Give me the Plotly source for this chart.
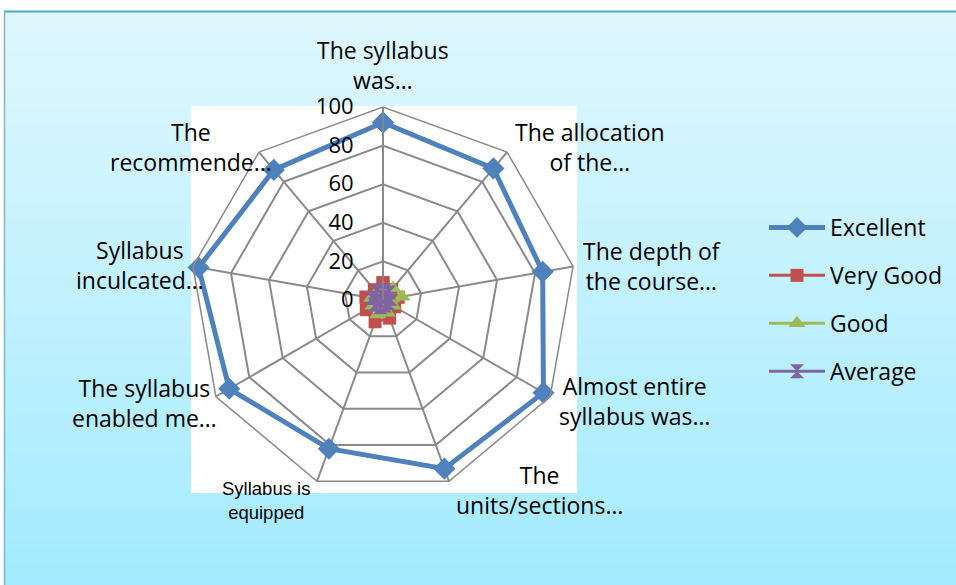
import math
import plotly.graph_objects as go

categories = [
    "The syllabus<br>was…",
    "The allocation<br>of the…",
    "The depth of<br>the course…",
    "Almost entire<br>syllabus was…",
    "The<br>units/sections…",
    "Syllabus is<br>equipped",
    "The syllabus<br>enabled me…",
    "Syllabus<br>inculcated…",
    "The<br>recommende…",
]
cat_ids = ["c%d" % i for i in range(len(categories))]

excellent = [92, 89, 84, 96, 93, 82, 92, 97, 88]
very_good = [9, 7, 8, 7, 10, 12, 10, 9, 7]
good = [6, 8, 10, 6, 7, 8, 6, 6, 5]
average = [5, 5, 4, 3, 3, 4, 5, 6, 5]

radial_ticks = [0, 20, 40, 60, 80, 100]

W, H = 956, 585
FONT = "Open Sans"
GRID = "#8a8a8a"

series = [
    ("Excellent", excellent, "#4F81BD", "diamond", 17, 5),
    ("Very Good", very_good, "#C0504D", "square", 13, 3),
    ("Good", good, "#9BBB59", "triangle-up", 15, 3),
    ("Average", average, "#8064A2", "hourglass", 14, 3),
]

fig = go.Figure()
for i, (name, vals, color, sym, msize, lw) in enumerate(series):
    fig.add_trace(go.Scatterpolar(
        r=vals + [vals[0]],
        theta=cat_ids + [cat_ids[0]],
        mode="lines+markers",
        name=name,
        legendgroup=name,
        line=dict(color=color, width=lw),
        marker=dict(symbol=sym, size=msize, color=color),
    ))

# background gradient bands
shapes = []
top_px, bot_px = 11, 585
c_top = (223, 247, 253)
c_bot = (163, 235, 255)
n = 60
for k in range(n):
    y0p = top_px + (bot_px - top_px) * k / n
    y1p = top_px + (bot_px - top_px) * (k + 1) / n + 0.6
    t = (k + 0.5) / n
    col = tuple(round(c_top[j] + (c_bot[j] - c_top[j]) * t) for j in range(3))
    shapes.append(dict(type="rect", xref="paper", yref="paper", layer="below",
                       x0=4 / W, x1=1, y0=1 - min(y1p, H) / H, y1=1 - y0p / H,
                       fillcolor="rgb(%d,%d,%d)" % col, line=dict(width=0)))
# frame lines
shapes.append(dict(type="line", xref="paper", yref="paper", layer="below",
                   x0=4 / W, x1=1, y0=1 - 11.5 / H, y1=1 - 11.5 / H,
                   line=dict(color="#4BACC6", width=2)))
shapes.append(dict(type="line", xref="paper", yref="paper", layer="below",
                   x0=4.5 / W, x1=4.5 / W, y0=0, y1=1 - 11 / H,
                   line=dict(color="#7fb6c4", width=1.5)))
# white plot area
shapes.append(dict(type="rect", xref="paper", yref="paper", layer="below",
                   x0=191 / W, x1=577 / W, y0=1 - 493 / H, y1=1 - 106 / H,
                   fillcolor="white", line=dict(width=0)))

cx, cy, R = 383, 300, 193

# category labels placed around the polygon (anchor, dx, dy, font size, family)
label_style = [
    ("center", 0, -42, 23, FONT),
    ("left", 6, -5, 23, FONT),
    ("left", 8, 0, 23, FONT),
    ("left", 7, 5, 23, FONT),
    ("left", 5, 9, 23, FONT),
    ("right", -5, 19, 18.5, "Liberation Sans"),
    ("right", 3, 6, 23, FONT),
    ("right", 13, -1, 23, FONT),
    ("right", 15, -5, 23, FONT),
]
annotations = []
nc = len(categories)
for i, txt in enumerate(categories):
    ang = 2 * math.pi * i / nc
    vx = cx + R * math.sin(ang)
    vy = cy - R * math.cos(ang)
    anchor, dx, dy, fs, fam = label_style[i]
    annotations.append(dict(
        text=txt, xref="paper", yref="paper", showarrow=False,
        x=(vx + dx) / W, y=1 - (vy + dy) / H,
        xanchor=anchor, yanchor="middle", align="center",
        font=dict(family=fam, size=fs, color="#000"),
    ))

fig.update_layout(
    width=W, height=H,
    margin=dict(l=0, r=0, t=0, b=0, autoexpand=False),
    paper_bgcolor="white",
    plot_bgcolor="white",
    font=dict(family=FONT, size=22, color="#000000"),
    shapes=shapes,
    annotations=annotations,
    showlegend=True,
    legend=dict(x=764 / W, y=1 - 206 / H, xanchor="left", yanchor="top",
                bgcolor="rgba(0,0,0,0)", font=dict(family=FONT, size=23),
                tracegroupgap=15, itemwidth=56),
    polar=dict(
        domain=dict(x=[(cx - R) / W, (cx + R) / W], y=[1 - (cy + R) / H, 1 - (cy - R) / H]),
        bgcolor="rgba(0,0,0,0)",
        gridshape="linear",
        radialaxis=dict(range=[0, 100], tickvals=radial_ticks, angle=90, tickangle=90,
                        side="counterclockwise", showline=True, linecolor=GRID, linewidth=1.5,
                        gridcolor=GRID, gridwidth=1.5, ticks="outside", ticklen=21,
                        tickcolor="rgba(0,0,0,0)",
                        tickfont=dict(family=FONT, size=22, color="#000")),
        angularaxis=dict(type="category", categoryorder="array", categoryarray=cat_ids,
                         tickvals=cat_ids, showticklabels=False,
                         rotation=90, direction="clockwise",
                         showline=True, linecolor=GRID, linewidth=1.5,
                         gridcolor=GRID, gridwidth=1.5, ticks=""),
    ),
)

fig.write_html("out.html", config={"displayModeBar": False},
               post_script="document.body.style.margin='0px';")
